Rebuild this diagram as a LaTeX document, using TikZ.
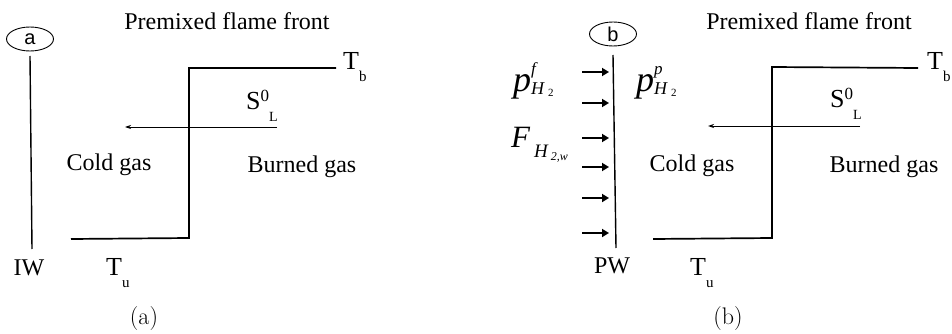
\documentclass[tikz,border=0pt]{standalone}
\usepackage{fontspec}
\usetikzlibrary{arrows.meta, positioning, shapes.geometric}
\newfontfamily\labelfont{Liberation Serif}
\newfontfamily\tagfont{Liberation Sans}
% pixel-like text sizes
\newcommand{\lblsize}{\labelfont\fontsize{24}{28}\selectfont}
\newcommand{\fs}[1]{\fontsize{#1}{#1}\selectfont}
\newcommand{\subt}[2]{{\fs{26}#1}\raisebox{-12pt}{\fs{15}#2}}
\newcommand{\sups}[3]{{\fs{26}#1}\raisebox{8pt}{\fs{17}#2}\raisebox{-12pt}{\fs{14}#3}}
\newcommand{\spec}[1]{{\fs{36}\itshape p}\rlap{\raisebox{17pt}{\fs{17}\itshape #1}}%
  \raisebox{-3pt}{\fs{18}\itshape H\hspace{4pt}\raisebox{-2pt}{\fs{11}\upshape 2}}}

\begin{document}
\begin{tikzpicture}[x=1pt, y=-1pt,
  lbl/.style={font=\lblsize, inner sep=0pt},
  tag/.style={draw, ellipse, line width=0.9pt, minimum width=47pt,
              minimum height=24pt, inner sep=0pt, font=\tagfont\fs{20}},
  front/.style={line width=1.7pt},
  wall/.style={line width=1.4pt},
  flow/.style={-{Stealth[length=6pt, width=4pt]}, line width=0.8pt},
  feed/.style={-{Triangle[length=7pt, width=8pt]}, line width=2.4pt},
  captext/.style={font=\fs{24}, inner sep=0pt}]
  \useasboundingbox (0,0) rectangle (952,334);

  % ---- panel (a): inert wall
  \node[tag] (taga) at (30,39) {a};
  \coordinate (iwtop) at (30,56);
  \coordinate (iwbot) at (32,249);
  \draw[wall] (iwtop) -- (iwbot);
  \node[lbl, anchor=base] (iw) at (29,275) {IW};
  \node[lbl, anchor=base] (fronta) at (227,30) {Premixed flame front};
  % flame front step
  \coordinate (ua) at (71,239);
  \coordinate (ca) at (189,238);
  \coordinate (da) at (189,68);
  \coordinate (ba) at (336,68);
  \draw[front] (ua) -- (ca) -- (da) -- (ba);
  \node[lbl, anchor=base west] (tba) at (343,70) {\subt{T}{b}};
  \node[lbl, anchor=base west] (tua) at (106,275) {\subt{T}{u}};
  \node[lbl, anchor=base west] (sla) at (246,110) {\sups{S}{0}{L}};
  \coordinate (sa0) at (277,127);
  \coordinate (sa1) at (125,127);
  \draw[flow] (sa0) -- (sa1);
  \node[lbl, anchor=base] (colda) at (109,170) {Cold gas};
  \node[lbl, anchor=base] (burna) at (302,172) {Burned gas};
  \node[captext, anchor=base] (capa) at (144,324) {(a)};

  % ---- panel (b): permeable wall
  \node[tag] (tagb) at (613,34) {b};
  \coordinate (pwtop) at (613,55);
  \coordinate (pwbot) at (616,248);
  \draw[wall] (pwtop) -- (pwbot);
  \node[lbl, anchor=base] (pw) at (612,273) {PW};
  \foreach \y [count=\i] in {72,103,138,167,198,233} {
    \coordinate (fa\i) at (582,\y);
    \coordinate (fb\i) at (609,\y);
    \draw[feed] (fa\i) -- (fb\i);
  }
  \node[lbl, anchor=base west] (pf) at (513,92) {\spec{f}};
  \node[lbl, anchor=base west] (pp) at (636,92) {\spec{p}};
  \node[lbl, anchor=base west] (flux) at (511,147)
    {{\fs{31}\itshape F}\hspace{4pt}\raisebox{-10pt}{\fs{19}\itshape H\hspace{3pt}\raisebox{-3pt}{\fs{12}2,\itshape w}}};
  \node[lbl, anchor=base] (frontb) at (809,30) {Premixed flame front};
  \coordinate (ub) at (653,239);
  \coordinate (cb) at (772,238);
  \coordinate (db) at (772,67);
  \coordinate (bb) at (918,68);
  \draw[front] (ub) -- (cb) -- (db) -- (bb);
  \node[lbl, anchor=base west] (tbb) at (927,70) {\subt{T}{b}};
  \node[lbl, anchor=base west] (tub) at (690,275) {\subt{T}{u}};
  \node[lbl, anchor=base west] (slb) at (830,108) {\sups{S}{0}{L}};
  \coordinate (sb0) at (860,126);
  \coordinate (sb1) at (708,126);
  \draw[flow] (sb0) -- (sb1);
  \node[lbl, anchor=base] (coldb) at (692,171) {Cold gas};
  \node[lbl, anchor=base] (burnb) at (884,172) {Burned gas};
  \node[captext, anchor=base] (capb) at (728,324) {(b)};
\end{tikzpicture}
\end{document}
